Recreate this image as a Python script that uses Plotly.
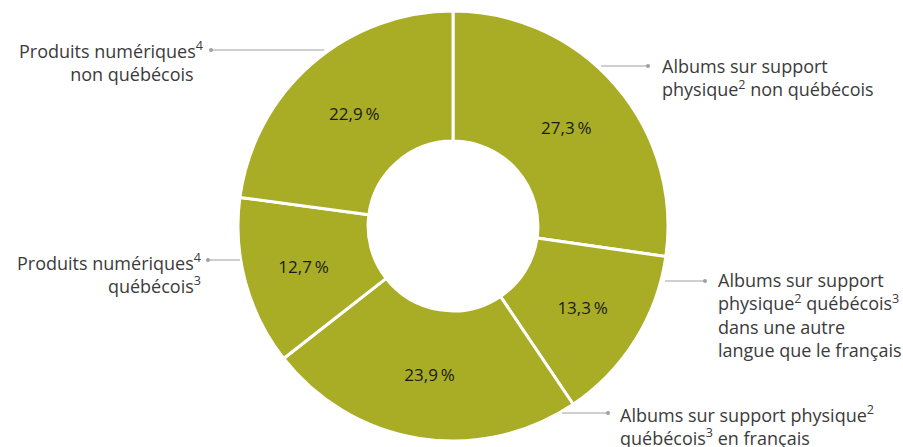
import plotly.graph_objects as go

W, H = 903, 447

categories = [
    "Albums sur support<br>physique<sup>2</sup> non québécois",
    "Albums sur support<br>physique<sup>2</sup> québécois<sup>3</sup><br>dans une autre<br>langue que le français",
    "Albums sur support physique<sup>2</sup><br>québécois<sup>3</sup> en français",
    "Produits numériques<sup>4</sup><br>québécois<sup>3</sup>",
    "Produits numériques<sup>4</sup><br>non québécois&nbsp;&nbsp;",
]
values = [27.3, 13.3, 23.9, 12.7, 22.9]
pct_text = [f"{v:.1f}".replace(".", ",") + "\u2009%" for v in values]

FONT = "Open Sans"
OLIVE = "#A9AD26"
GREY_TXT = "#3b3b3b"
LEAD = "#a0a0a0"

cx, cy, R = 453, 226, 215

fig = go.Figure(go.Pie(
    values=values,
    labels=[c.replace("<br>", " ").replace("&nbsp;", "") for c in categories],
    text=pct_text,
    textinfo="text",
    textposition="inside",
    insidetextorientation="horizontal",
    sort=False,
    direction="clockwise",
    rotation=0,
    hole=0.395,
    marker=dict(colors=[OLIVE] * len(values), line=dict(color="white", width=3)),
    textfont=dict(family=FONT, size=17, color="#1a1a1a"),
    domain=dict(x=[(cx - R) / W, (cx + R) / W], y=[1 - (cy + R) / H, 1 - (cy - R) / H]),
    showlegend=False,
    hoverinfo="label+text",
))

# label placement: (text anchor x px, center y px, xanchor, align, dot x, line end x, line y)
placements = [
    (660, 78, "left", "left", 648, 601, 66),
    (716, 315, "left", "left", 705, 665, 281),
    (618, 425, "left", "left", 608, 562, 413),
    (203, 273, "right", "right", 208, 240, 260),
    (205, 62, "right", "right", 211, 324, 50),
]

def px(x):
    return x / W

def py(y):
    return 1 - y / H

shapes = []
annotations = []
for cat, (tx, ty, xa, al, dx, lx, ly) in zip(categories, placements):
    annotations.append(dict(
        x=px(tx), y=py(ty), xref="paper", yref="paper",
        text=cat, showarrow=False, xanchor=xa, yanchor="middle", align=al,
        font=dict(family=FONT, size=18, color=GREY_TXT),
    ))
    shapes.append(dict(type="line", xref="paper", yref="paper",
                       x0=px(dx), x1=px(lx), y0=py(ly), y1=py(ly),
                       line=dict(color=LEAD, width=1)))
    shapes.append(dict(type="circle", xref="paper", yref="paper",
                       x0=px(dx - 2), x1=px(dx + 2), y0=py(ly - 2), y1=py(ly + 2),
                       fillcolor=LEAD, line=dict(width=0)))

fig.update_layout(
    width=W, height=H,
    margin=dict(l=0, r=0, t=0, b=0),
    paper_bgcolor="white",
    plot_bgcolor="white",
    shapes=shapes,
    annotations=annotations,
    font=dict(family=FONT),
)

fig.write_html("out.html")
